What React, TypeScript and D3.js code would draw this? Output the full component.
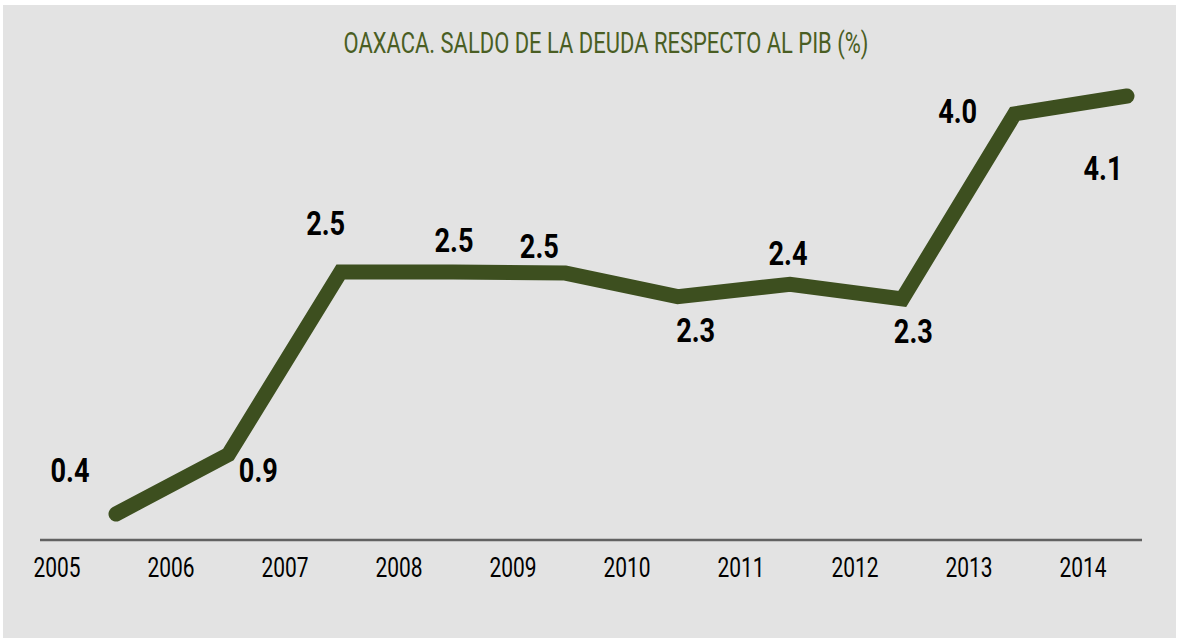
import React from "react";
import * as d3 from "d3";

const years = ["2005", "2006", "2007", "2008", "2009", "2010", "2011", "2012", "2013", "2014"];
const values = [0.4, 0.93, 2.56, 2.56, 2.55, 2.34, 2.45, 2.32, 3.97, 4.13];
const valueLabels = ["0.4", "0.9", "2.5", "2.5", "2.5", "2.3", "2.4", "2.3", "4.0", "4.1"];
// label offsets relative to the point (dx, dy of baseline)
const labelOffsets: [number, number][] = [
  [-46, -32], [30, 27], [-15, -37], [1, -20], [-26, -15], [18, 45], [-2, -19], [11, 44], [-57, 9], [-24, 84],
];

const W = 1177;
const H = 638;
const FONT = "Roboto, 'Noto Sans', sans-serif";

export default function App() {
  const xLine = d3.scalePoint<string>().domain(years).range([116, 1127]);
  const xLabel = d3.scalePoint<string>().domain(years).range([57, 1083]);
  const y = d3.scaleLinear().domain([0.4, 4.13]).range([514, 96]);

  const line = d3
    .line<number>()
    .x((_, i) => xLine(years[i]) as number)
    .y((d) => y(d));

  return (
    <div style={{ position: "absolute", left: 0, top: 0 }}>
      <svg width={W} height={H} style={{ display: "block" }}>
        <rect x={0} y={0} width={W} height={H} fill="#ffffff" />
        <rect x={3} y={5} width={1173} height={H - 5} fill="#e3e3e3" />
        <text
          x={606}
          y={53}
          textAnchor="middle"
          fill="#4a5e23"
          fontFamily={FONT}
          fontSize={29}
          textLength={525}
          lengthAdjust="spacingAndGlyphs"
        >
          OAXACA. SALDO DE LA DEUDA RESPECTO AL PIB (%)
        </text>
        <line x1={40} x2={1142} y1={540} y2={540} stroke="#626262" strokeWidth={2.5} />
        {years.map((yr) => (
          <text
            key={yr}
            x={xLabel(yr)}
            y={577}
            textAnchor="middle"
            fill="#000"
            fontFamily={FONT}
            fontSize={28}
            textLength={47}
            lengthAdjust="spacingAndGlyphs"
          >
            {yr}
          </text>
        ))}
        <path
          d={line(values) || ""}
          fill="none"
          stroke="#3d4f1f"
          strokeWidth={15}
          strokeLinecap="round"
          strokeLinejoin="miter"
        />
        {values.map((v, i) => (
          <text
            key={i}
            x={(xLine(years[i]) as number) + labelOffsets[i][0]}
            y={y(v) + labelOffsets[i][1]}
            textAnchor="middle"
            fill="#000"
            fontFamily={FONT}
            fontWeight="bold"
            fontSize={33}
            textLength={39}
            lengthAdjust="spacingAndGlyphs"
          >
            {valueLabels[i]}
          </text>
        ))}
      </svg>
    </div>
  );
}
